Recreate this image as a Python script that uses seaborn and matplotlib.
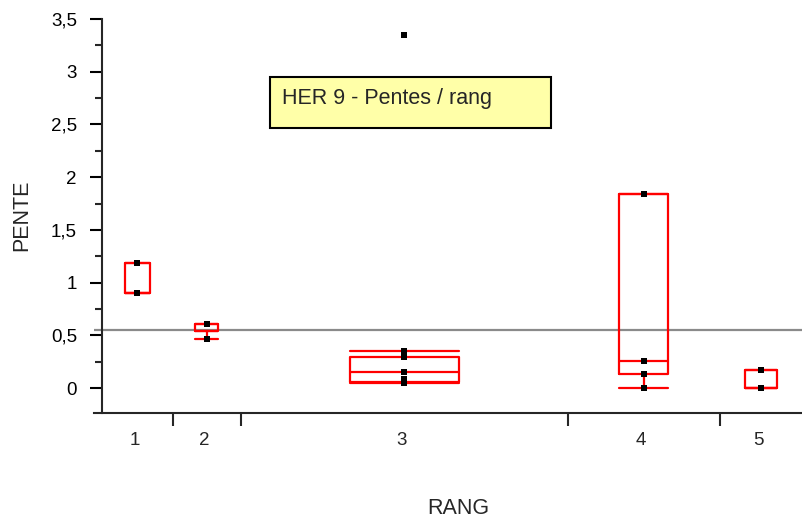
import matplotlib
matplotlib.use("Agg")
import matplotlib.pyplot as plt
from matplotlib.patches import Rectangle
from matplotlib.ticker import FuncFormatter, MultipleLocator
import numpy as np
import pandas as pd
import seaborn as sns

# ---------------- data ----------------
rang_labels = ["1", "2", "3", "4", "5"]
pts_rang = ["1", "1", "2", "2", "3", "3", "3", "3", "3", "3", "3", "4", "4", "4", "4", "5", "5"]
pts_pente = [1.19, 0.90, 0.607, 0.462,
             3.35, 0.354, 0.297, 0.149, 0.082, 0.062, 0.05,
             1.837, 0.253, 0.130, 0.0,
             0.171, 0.0]
box_q1 = [0.90, 0.545, 0.054, 0.130, 0.0]
box_med = [0.90, 0.545, 0.149, 0.253, 0.0]
box_q3 = [1.19, 0.607, 0.297, 1.837, 0.171]
whisk_lo = [0.90, 0.462, 0.050, 0.0, 0.0]
whisk_hi = [1.19, 0.607, 0.354, 1.837, 0.171]
grand_mean = 0.546
y_ticks = [0, 0.5, 1, 1.5, 2, 2.5, 3, 3.5]

# ---------------- layout ----------------
seg_widths = [71, 68, 327, 152, 83]       # category band widths (axis units)
box_widths = [25, 23, 109, 49, 32]
bounds = np.concatenate([[0], np.cumsum(seg_widths)])
centers = (bounds[:-1] + bounds[1:]) / 2
center_of = dict(zip(rang_labels, centers))

sns.set_style("ticks")
plt.rcParams["font.family"] = ["Liberation Sans", "DejaVu Sans"]

W, H = 803, 517
fig = plt.figure(figsize=(W / 100, H / 100), dpi=100)
ax_left, ax_right, ax_top, ax_bot = 94, 803, 19, 413
ax = fig.add_axes([ax_left / W, 1 - ax_bot / H, (ax_right - ax_left) / W, (ax_bot - ax_top) / H])

df = pd.DataFrame({"RANG": pts_rang, "PENTE": pts_pente})
df["x"] = df["RANG"].map(center_of)

# grand mean
ax.axhline(grand_mean, color="#8a8a8a", lw=1.6, zorder=1)

# quantile boxes
stats = []
for i in range(len(rang_labels)):
    stats.append(dict(q1=box_q1[i], med=box_med[i], q3=box_q3[i],
                      whislo=whisk_lo[i], whishi=whisk_hi[i], fliers=[]))
red = dict(color="#ff0000", lw=1.6)
ax.bxp(stats, positions=centers, widths=box_widths, capwidths=box_widths,
       showfliers=False, manage_ticks=False,
       boxprops=red, whiskerprops=red, capprops=red, medianprops=red)

sns.scatterplot(data=df, x="x", y="PENTE", marker="s", color="black",
                s=18, linewidth=0, ax=ax, zorder=5, legend=False)

ax.set_xlim(-8, bounds[-1] + 0.5)
ax.set_ylim(-0.237, 3.5)

# spines
for s in ["top", "right"]:
    ax.spines[s].set_visible(False)
ax.spines["left"].set_position(("data", 0))
ax.spines["left"].set_linewidth(1.5)
ax.spines["bottom"].set_linewidth(1.5)

# y ticks
ax.set_yticks(y_ticks)
ax.yaxis.set_minor_locator(MultipleLocator(0.25))
ax.yaxis.set_major_formatter(FuncFormatter(lambda v, p: ("%g" % v).replace(".", ",")))
ax.tick_params(axis="y", which="major", length=9, width=1.5, pad=9, labelsize=13.5, colors="black")
ax.tick_params(axis="y", which="minor", length=5, width=1.5)

# x ticks: boundaries as major ticks, labels at centers
ax.set_xticks(bounds[1:-1])
ax.set_xticklabels([])
ax.set_xticks(centers - 3, minor=True)
ax.set_xticklabels(rang_labels, minor=True)
ax.tick_params(axis="x", which="major", length=9, width=1.5)
ax.tick_params(axis="x", which="minor", length=0, pad=14, labelsize=13.5)

ax.set_xlabel("RANG", fontsize=15.5)
ax.set_ylabel("PENTE", fontsize=15.5)
ax.xaxis.set_label_coords((458 - ax_left) / (ax_right - ax_left), (ax_bot - 508) / (ax_bot - ax_top))
ax.xaxis.label.set_va("center")
ax.yaxis.set_label_coords((22 - ax_left) / (ax_right - ax_left), (ax_bot - 215) / (ax_bot - ax_top))
ax.yaxis.label.set_va("center")

# title box
fig.patches.append(Rectangle((270 / W, 1 - 128 / H), 281 / W, 51 / H, transform=fig.transFigure,
                             facecolor="#ffffa8", edgecolor="black", lw=1.5, zorder=10))
fig.text(282 / W, 1 - 99 / H, "HER 9 - Pentes / rang", fontsize=15.5, va="center", ha="left", zorder=11)

fig.savefig("out.png", dpi=100)
